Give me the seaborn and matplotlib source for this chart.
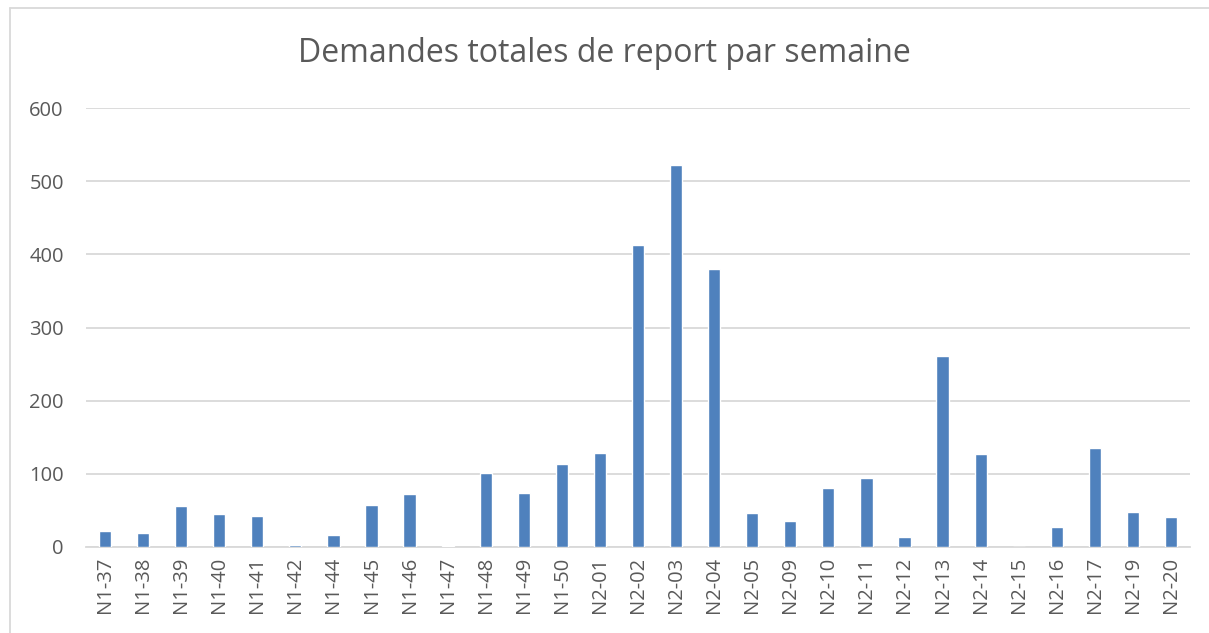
import pandas as pd
import matplotlib
matplotlib.use('Agg')
import matplotlib.pyplot as plt
import seaborn as sns
from matplotlib.lines import Line2D

# Weekly totals
weeks = ['N1-37', 'N1-38', 'N1-39', 'N1-40', 'N1-41', 'N1-42', 'N1-44', 'N1-45',
         'N1-46', 'N1-47', 'N1-48', 'N1-49', 'N1-50', 'N2-01', 'N2-02', 'N2-03',
         'N2-04', 'N2-05', 'N2-09', 'N2-10', 'N2-11', 'N2-12', 'N2-13', 'N2-14',
         'N2-15', 'N2-16', 'N2-17', 'N2-19', 'N2-20']
demandes = [22, 19, 56, 45, 43, 3, 17, 58, 72, 1, 101, 74, 114, 128, 413, 522,
            380, 46, 36, 80, 94, 13, 261, 127, 0, 27, 135, 48, 41]
y_ticks = [0, 100, 200, 300, 400, 500, 600]

df = pd.DataFrame({'Semaine': weeks, 'Demandes': demandes})

sns.set_style('white')
plt.rcParams['font.family'] = ['Open Sans', 'DejaVu Sans']

text_color = '#595959'
grid_color = '#D9D9D9'

fig = plt.figure(figsize=(12.09, 6.33), dpi=100)
ax = fig.add_axes([86 / 1209, 1 - 547 / 633, (1190 - 86) / 1209, (547 - 108) / 633])

sns.barplot(data=df, x='Semaine', y='Demandes', color='#4F81BD', width=0.32,
            saturation=1, ax=ax, zorder=3)

ax.set_ylim(0, 600)
ax.set_yticks(y_ticks)
ax.set_xlim(-0.5, len(weeks) - 0.5)
ax.yaxis.grid(True, color=grid_color, linewidth=1.3, zorder=0)
ax.set_axisbelow(True)
for side in ['top', 'right', 'left']:
    ax.spines[side].set_visible(False)
ax.spines['bottom'].set_color(grid_color)
ax.spines['bottom'].set_linewidth(1.3)
ax.tick_params(axis='both', length=0, colors=text_color, labelsize=14.5)
ax.tick_params(axis='y', pad=16)
ax.tick_params(axis='x', pad=7)
plt.setp(ax.get_xticklabels(), rotation=90)
ax.set_xlabel('')
ax.set_ylabel('')

fig.text(0.5, 1 - 53 / 633, 'Demandes totales de report par semaine',
         ha='center', va='center', fontsize=23, color=text_color)

# Chart-area frame (top and left edges visible in the reference)
fig.add_artist(Line2D([10 / 1209, 1.0], [1 - 8 / 633, 1 - 8 / 633],
                      transform=fig.transFigure, color=grid_color, linewidth=1.3))
fig.add_artist(Line2D([10 / 1209, 10 / 1209], [0, 1 - 8 / 633],
                      transform=fig.transFigure, color=grid_color, linewidth=1.3))

fig.savefig('out.png', dpi=100, facecolor='white')
